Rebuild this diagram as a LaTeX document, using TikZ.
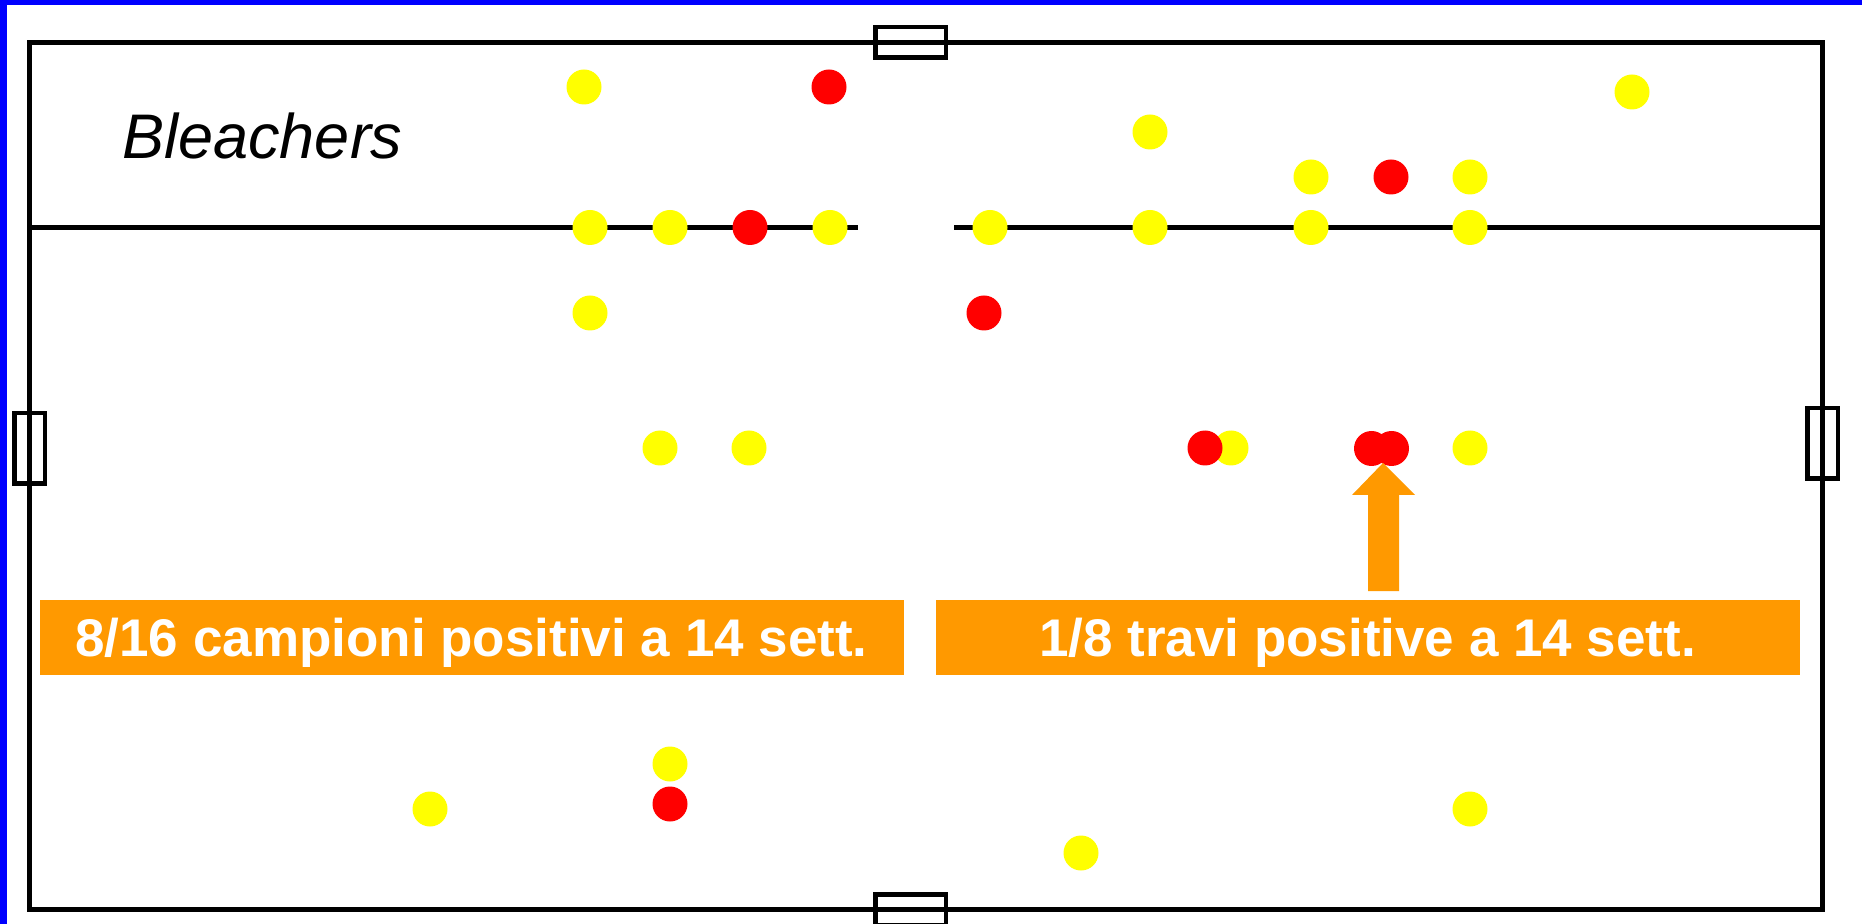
\documentclass[tikz,border=0pt]{standalone}
\usepackage{fontspec}
\setmainfont{Liberation Sans}
\usetikzlibrary{shapes.geometric}
\definecolor{dotred}{HTML}{FF0000}
\definecolor{dotyellow}{HTML}{FFFF00}
\definecolor{resultorange}{HTML}{FF9900}
\definecolor{frameblue}{HTML}{0000FF}
\tikzstyle{yellowdot} = [
    circle,
    fill=dotyellow,
    inner sep=0pt,
    minimum size=17.5pt
]
\tikzstyle{reddot} = [
    circle,
    fill=dotred,
    inner sep=0pt,
    minimum size=17.5pt
]
\tikzstyle{doorh} = [
    rectangle,
    draw=black,
    line width=2.25pt,
    inner sep=0pt,
    minimum width=35.25pt,
    minimum height=15.25pt
]
\tikzstyle{doorv} = [
    rectangle,
    draw=black,
    line width=2.25pt,
    inner sep=0pt,
    minimum width=15.25pt,
    minimum height=35.25pt
]
\tikzstyle{result} = [
    rectangle,
    fill=resultorange,
    text=white,
    inner sep=0pt,
    text height=19pt,
    text depth=0pt,
    minimum width=432pt,
    minimum height=37.5pt,
    font=\bfseries\fontsize{26.5}{30}\selectfont
]
\tikzstyle{wall} = [line width=2.25pt]

\begin{document}
\begin{tikzpicture}[x=0.5pt, y=-0.5pt]

\useasboundingbox (0,0) rectangle (1862,924);
\fill[frameblue] (0,0) rectangle (7,924);
\fill[frameblue] (0,0) rectangle (1862,5);

% field and bleachers
\draw[wall] (29.5,42.5) rectangle (1822.5,909.5);
\draw[wall] (29.5,227.5) -- (858,227.5);
\draw[wall] (954,227.5) -- (1822.5,227.5);

\node (doortop) [doorh] at (910.5,42.5) {};
\node (doorbottom) [doorh] at (910.5,909.5) {};
\node (doorleft) [doorv] at (29.5,448.5) {};
\node (doorright) [doorv] at (1822.5,443.5) {};

\node (bleachers) [anchor=base west, inner sep=0pt,
    font=\itshape\fontsize{31.5}{36}\selectfont] at (122,159) {Bleachers};

% samples
\node (y1) [yellowdot] at (584,87) {};
\node (y2) [yellowdot] at (1150,132) {};
\node (y3) [yellowdot] at (1632,92) {};
\node (y4) [yellowdot] at (1311,177) {};
\node (y5) [yellowdot] at (1470,177) {};
\node (y6) [yellowdot] at (590,227.5) {};
\node (y7) [yellowdot] at (670,227.5) {};
\node (y8) [yellowdot] at (830,227.5) {};
\node (y9) [yellowdot] at (990,227.5) {};
\node (y10) [yellowdot] at (1150,227.5) {};
\node (y11) [yellowdot] at (1311,227.5) {};
\node (y12) [yellowdot] at (1470,227.5) {};
\node (y13) [yellowdot] at (590,313) {};
\node (y14) [yellowdot] at (660,448) {};
\node (y15) [yellowdot] at (749,448) {};
\node (y16) [yellowdot] at (1231,448) {};
\node (y17) [yellowdot] at (1470,448) {};
\node (y18) [yellowdot] at (670,764) {};
\node (y19) [yellowdot] at (430,809) {};
\node (y20) [yellowdot] at (1470,809) {};
\node (y21) [yellowdot] at (1081,853) {};

\node (r1) [reddot] at (829,87) {};
\node (r2) [reddot] at (1391,177) {};
\node (r3) [reddot] at (750,227.5) {};
\node (r4) [reddot] at (984,313) {};
\node (r5) [reddot] at (1205,448) {};
\node (r6) [reddot] at (1371.5,448.5) {};
\node (r7) [reddot] at (1391.5,448.5) {};
\node (r8) [reddot] at (670,804) {};

% results
\node (resleft) [result] at (471.5,637.5) {8/16 campioni positivi a 14 sett.};
\node (resright) [result] at (1367.5,637.5) {1/8 travi positive a 14 sett.};

\fill[resultorange] (1368,591) -- (1368,495) -- (1352,495) -- (1383,463)
    -- (1415,495) -- (1399,495) -- (1399,591) -- cycle;

\end{tikzpicture}
\end{document}
